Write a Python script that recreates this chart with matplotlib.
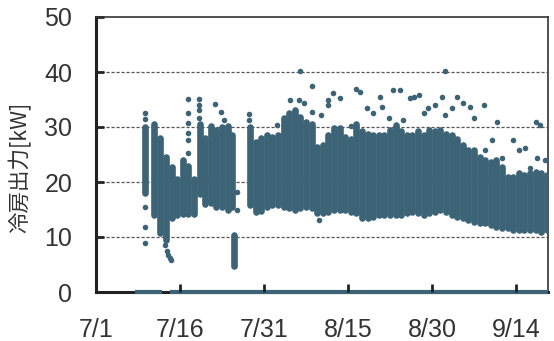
import matplotlib
matplotlib.use("Agg")
import matplotlib.pyplot as plt
import numpy as np

# days counted from 7/1 (day 0)
tick_days = [0, 15, 30, 45, 60, 75]
tick_labels = ["7/1", "7/16", "7/31", "8/15", "8/30", "9/14"]

# dense hourly band per day: column position (day), lower and upper edge [kW]
band_day = [8.7, 10.4, 11.5, 12.5, 13.5, 14.5, 15.5, 16.5, 17.5, 18.5, 19.5,
            20.5, 21.5, 22.5, 23.5, 24.2, 24.7,
            27.5, 28.5, 29.5, 30.5, 31.5, 32.5, 33.5, 34.5, 35.5, 36.5, 37.5,
            38.5, 39.5, 40.5, 41.5, 42.5, 43.5, 44.5, 45.5, 46.5, 47.5, 48.5,
            49.5, 50.5, 51.5, 52.5, 53.5, 54.5, 55.5, 56.5, 57.5, 58.5, 59.5,
            60.5, 61.5, 62.5, 63.5, 64.5, 65.5, 66.5, 67.5, 68.5, 69.5, 70.5,
            71.5, 72.5, 73.5, 74.5, 75.5, 76.5, 77.5, 78.5, 79.5, 80.5]
band_lo = [18.0, 14.0, 10.7, 9.5, 13.5, 14.0, 14.2, 14.1, 14.1, 17.9, 16.0,
           16.1, 15.5, 15.5, 14.9, 15.5, 4.8,
           15.8, 14.6, 14.7, 15.5, 15.8, 15.8, 15.5, 15.2, 14.9, 15.2, 15.5,
           15.2, 14.3, 14.3, 14.6, 14.9, 14.9, 14.9, 14.6, 14.3, 13.4, 13.4,
           13.7, 14.0, 14.0, 14.0, 14.0, 14.0, 14.3, 14.6, 14.3, 14.0, 14.3,
           14.6, 14.9, 14.6, 14.0, 13.7, 13.4, 13.1, 12.8, 12.5, 12.5, 12.2,
           11.9, 11.6, 11.6, 11.3, 11.3, 11.3, 11.3, 11.3, 11.0, 11.3]
band_hi = [30.0, 30.5, 28.0, 24.6, 22.8, 20.5, 24.0, 23.0, 20.5, 30.5, 28.0,
           30.1, 29.5, 30.0, 30.1, 28.5, 10.4,
           30.0, 27.3, 28.0, 28.5, 28.2, 28.5, 31.6, 32.5, 33.1, 31.9, 31.0,
           30.6, 26.4, 26.7, 28.5, 29.8, 29.8, 28.2, 27.9, 30.6, 29.2, 28.8,
           28.5, 28.5, 28.5, 29.5, 30.4, 29.2, 28.5, 28.5, 29.2, 28.5, 29.5,
           29.2, 29.5, 28.8, 28.5, 27.9, 26.7, 25.8, 25.8, 24.6, 24.0, 23.7,
           24.0, 22.8, 21.0, 21.0, 21.6, 21.3, 21.6, 21.9, 21.6, 21.3]

# isolated points outside the band
pt_day = [8.7, 8.7, 8.7, 8.7, 8.7, 12.3, 12.6, 12.9, 13.2, 13.4,
          16.4, 16.4, 16.4, 16.4, 16.4, 16.4, 18.4, 18.4, 18.4, 18.4,
          21.2, 22.3, 22.9, 25.2, 25.2, 27.3, 27.3, 32.3,
          34.6, 36.3, 36.4, 37.2, 38.5, 38.5, 39.9, 40.1, 41.5, 41.5, 42.4,
          43.6, 45.5, 46.5, 47.1, 48.3, 49.5, 50.7, 51.0, 52.4, 53.1, 54.3,
          54.9, 56.1, 56.7, 57.6, 58.5, 59.3, 60.5, 61.7, 62.3, 62.3, 63.5,
          64.4, 65.6, 66.7, 67.4, 69.2, 69.5, 70.7, 71.6, 72.4, 74.5, 75.6,
          76.6, 77.5, 78.6, 78.7, 79.3, 80.2]
pt_val = [32.5, 31.5, 15.4, 11.8, 8.9, 8.5, 7.5, 6.8, 6.2, 5.8,
          35.1, 32.5, 30.7, 28.9, 27.6, 25.2, 35.1, 34.0, 33.1, 31.6,
          34.2, 32.8, 31.3, 18.2, 15.0, 32.3, 31.2, 30.4,
          34.9, 34.9, 40.1, 34.3, 37.5, 32.8, 13.1, 32.2, 34.9, 34.0, 36.1,
          35.2, 30.1, 37.0, 36.4, 33.4, 32.5, 35.5, 33.7, 31.6, 36.7, 36.7,
          31.3, 35.2, 35.5, 35.8, 32.5, 33.4, 34.0, 35.5, 40.1, 32.2, 33.4,
          35.5, 34.3, 33.7, 31.6, 34.0, 25.8, 27.6, 31.0, 24.3, 27.6, 25.8,
          26.1, 22.5, 31.0, 24.3, 30.4, 24.0]

# spans where the output is zero
zero_start = [7.0, 13.2]
zero_end = [11.8, 80.7]

pt_color = "#3d6376"

fig = plt.figure(figsize=(5.54, 3.41), dpi=100)
ax = fig.add_axes([96 / 554, 49 / 341, 452 / 554, 275 / 341])

ax.vlines(band_day, band_lo, band_hi, colors=pt_color, linewidth=4.8,
          capstyle="round", zorder=3)
ax.scatter(pt_day, pt_val, s=16, color=pt_color, linewidths=0, zorder=3)
ax.hlines([0] * len(zero_start), zero_start, zero_end, colors=pt_color,
          linewidth=3, clip_on=False, zorder=6)

ax.set_xlim(0, 80.7)
ax.set_ylim(0, 50)
ax.set_xticks(tick_days)
ax.set_xticklabels(tick_labels)
ax.set_yticks([0, 10, 20, 30, 40, 50])

for y in [10, 20, 30, 40]:
    ax.axhline(y, color="#555555", linewidth=0.9, dashes=(2.5, 1.5), zorder=1)

for side in ["left", "bottom"]:
    ax.spines[side].set_linewidth(2.2)
    ax.spines[side].set_color("#222222")
for side in ["top", "right"]:
    ax.spines[side].set_linewidth(1.2)
    ax.spines[side].set_color("#333333")

ax.tick_params(axis="both", direction="in", length=6, width=2, color="#222222",
               labelsize=18, labelcolor="#333333")
ax.tick_params(axis="y", pad=17)
ax.tick_params(axis="x", pad=19)
ax.xaxis.set_zorder(7)
for lab in ax.get_xticklabels() + ax.get_yticklabels():
    lab.set_family(["Liberation Sans", "DejaVu Sans"])

fig.text(20 / 554, 1 - 167 / 341, "冷房出力[kW]", rotation=90, ha="center",
         va="center", fontsize=15.5, color="#333333",
         family=["Noto Sans CJK JP", "DejaVu Sans"])

fig.savefig("out.png", dpi=100)
